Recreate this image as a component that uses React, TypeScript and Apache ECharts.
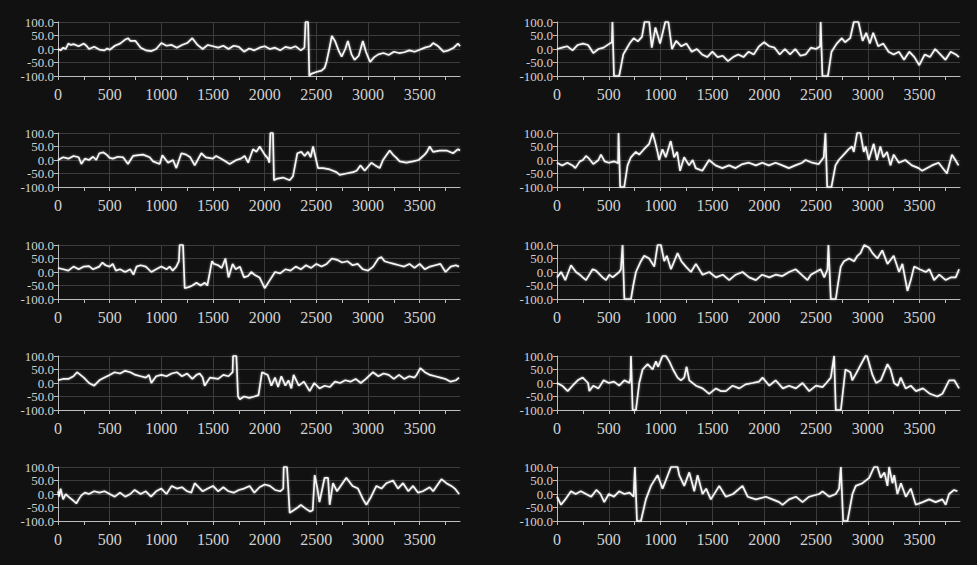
import React, { useEffect, useRef } from "react";
import * as echarts from "echarts";

// ---- axis definitions ----
const X_MIN = 0;
const X_MAX = 3890;
const X_TICK_STEP = 250;
const X_LABEL_STEP = 500;
const Y_MIN = -100;
const Y_MAX = 100;
const Y_STEP = 50;
const Y_LABELS_A = [-100, 0, 100];
const Y_LABELS_B = [-50, 50];

// ---- data: [sample index, value] ----
const L1: [number, number][] = [
  [0,0],[25,-5],[50,5],[75,0],[100,20],[125,15],[150,18],[200,10],[250,20],[275,12],[300,0],[350,8],[400,-2],[450,-5],[475,2],[500,-3],[550,12],[600,20],[650,35],[680,40],[700,30],[750,30],[800,5],[850,-5],[900,-8],[950,0],[1000,22],[1050,12],[1100,15],[1150,5],[1200,15],[1250,22],[1300,40],[1350,15],[1400,0],[1450,15],[1500,10],[1550,5],[1600,12],[1650,0],[1700,12],[1750,8],[1800,-10],[1850,2],[1900,-5],[1950,5],[2000,10],[2050,0],[2100,5],[2150,-5],[2200,8],[2250,3],[2300,10],[2350,-5],[2385,5],[2395,100],[2420,100],[2432,-100],[2450,-92],[2500,-85],[2550,-80],[2580,-70],[2600,-45],[2625,0],[2650,48],[2680,30],[2720,-10],[2745,-28],[2780,0],[2805,30],[2840,-20],[2870,-40],[2910,-25],[2950,30],[2980,-10],[3020,-48],[3060,-30],[3100,-20],[3150,-15],[3200,-22],[3250,-10],[3300,-15],[3350,-12],[3400,-5],[3450,-10],[3500,-3],[3550,5],[3600,10],[3630,22],[3680,10],[3730,-10],[3780,-5],[3830,5],[3870,20],[3890,10]
];
const R1: [number, number][] = [
  [0,0],[50,5],[100,10],[150,-5],[200,15],[250,20],[300,15],[350,-15],[400,0],[450,5],[500,18],[530,25],[535,100],[550,-100],[600,-100],[640,-20],[670,0],[700,20],[740,40],[780,28],[820,45],[845,100],[890,100],[915,5],[950,80],[995,20],[1045,100],[1075,100],[1110,0],[1150,30],[1200,10],[1250,20],[1300,-10],[1350,0],[1400,-20],[1450,-30],[1500,-10],[1550,-30],[1600,-25],[1650,-45],[1700,-30],[1750,-20],[1800,-30],[1850,-10],[1900,-20],[1950,10],[2000,25],[2050,10],[2100,5],[2150,-20],[2200,0],[2250,-20],[2300,0],[2350,-25],[2400,-20],[2450,5],[2500,0],[2540,10],[2545,100],[2562,-100],[2615,-100],[2650,-10],[2700,20],[2750,40],[2780,25],[2830,40],[2865,100],[2910,100],[2950,30],[2985,60],[3020,20],[3052,60],[3100,10],[3150,20],[3200,-10],[3250,-20],[3300,-10],[3350,-40],[3400,-10],[3450,-30],[3497,-60],[3550,-20],[3600,-30],[3650,0],[3700,-20],[3750,-40],[3800,-10],[3850,-20],[3880,-30]
];
const L2: [number, number][] = [
  [0,0],[50,10],[100,5],[150,15],[200,10],[226,-15],[260,5],[300,0],[339,12],[370,0],[400,25],[440,28],[470,20],[500,8],[532,5],[580,12],[630,10],[677,-15],[726,15],[780,18],[823,20],[887,10],[920,-5],[984,-15],[1010,18],[1065,-10],[1113,0],[1145,-30],[1194,25],[1240,20],[1280,10],[1323,-20],[1387,25],[1430,10],[1500,5],[1530,15],[1600,0],[1661,-15],[1726,0],[1770,5],[1806,15],[1840,-10],[1887,40],[1920,30],[1952,50],[2000,20],[2032,5],[2045,-10],[2055,100],[2080,100],[2090,-75],[2113,-70],[2177,-65],[2242,-75],[2274,-60],[2316,25],[2355,30],[2387,15],[2419,30],[2445,10],[2468,50],[2516,-30],[2565,-30],[2630,-35],[2694,-45],[2726,-55],[2790,-50],[2855,-45],[2890,-40],[2926,-20],[2968,-40],[3032,-10],[3070,-20],[3113,-30],[3145,0],[3210,35],[3240,20],[3270,10],[3306,-5],[3371,-10],[3435,-5],[3490,0],[3548,20],[3570,30],[3597,50],[3629,30],[3694,35],[3760,35],[3823,25],[3871,40],[3890,35]
];
const R2: [number, number][] = [
  [0,-10],[50,-20],[100,-10],[150,-20],[177,-30],[220,-5],[250,0],[280,15],[310,5],[350,-15],[400,0],[424,20],[460,-5],[500,-10],[550,-5],[590,-12],[594,100],[610,-100],[649,-100],[681,-20],[713,10],[761,30],[793,20],[840,40],[890,60],[922,100],[945,70],[970,30],[986,0],[1018,40],[1050,10],[1098,70],[1130,10],[1160,30],[1188,-40],[1227,10],[1275,-20],[1310,0],[1339,-30],[1403,-40],[1468,0],[1530,-20],[1596,-30],[1660,-20],[1724,-30],[1790,-15],[1853,-10],[1920,-20],[1981,-10],[2045,-20],[2110,-10],[2175,-20],[2238,-30],[2300,-20],[2367,-10],[2400,0],[2463,-10],[2527,-15],[2575,10],[2591,100],[2608,-100],[2649,-100],[2688,-20],[2720,0],[2768,20],[2816,40],[2848,50],[2865,30],[2897,100],[2929,100],[2961,30],[2980,50],[3009,0],[3057,60],[3089,0],[3121,50],[3150,10],[3186,30],[3218,-20],[3250,20],[3300,-10],[3362,0],[3425,-20],[3491,-30],[3525,-40],[3619,-20],[3683,-10],[3764,-50],[3812,20],[3845,0],[3876,-20]
];
const L3: [number, number][] = [
  [0,15],[50,10],[100,5],[150,20],[200,10],[250,20],[300,22],[339,10],[400,20],[430,35],[460,25],[500,20],[530,30],[560,5],[600,10],[650,0],[700,10],[730,-10],[760,20],[800,25],[850,20],[903,0],[950,10],[1000,20],[1050,10],[1080,20],[1110,5],[1145,20],[1170,40],[1177,100],[1210,100],[1226,-60],[1270,-55],[1300,-50],[1340,-40],[1380,-50],[1420,-40],[1445,-50],[1470,0],[1490,40],[1510,30],[1550,25],[1585,15],[1620,50],[1650,-20],[1690,30],[1720,10],[1760,20],[1800,-20],[1840,-15],[1870,0],[1900,-10],[1950,-20],[2000,-60],[2050,-30],[2100,0],[2150,-5],[2200,10],[2250,5],[2300,20],[2350,10],[2400,25],[2450,15],[2500,30],[2550,20],[2600,30],[2650,50],[2700,45],[2750,35],[2800,40],[2850,25],[2900,30],[2950,10],[3000,5],[3050,20],[3100,50],[3130,55],[3160,40],[3200,35],[3250,30],[3300,25],[3350,20],[3400,30],[3450,15],[3500,30],[3550,10],[3600,20],[3650,25],[3700,30],[3750,0],[3800,20],[3850,25],[3880,20]
];
const R3: [number, number][] = [
  [0,-20],[40,0],[80,-30],[110,0],[135,25],[183,0],[220,-10],[248,-20],[280,-30],[344,10],[376,5],[440,-20],[473,-30],[505,-10],[537,-20],[601,0],[617,10],[633,100],[650,-100],[714,-100],[736,-50],[762,0],[810,40],[842,60],[890,50],[939,20],[971,100],[1003,100],[1035,40],[1060,60],[1100,10],[1164,70],[1200,40],[1244,20],[1293,0],[1341,30],[1405,-10],[1470,0],[1534,-20],[1600,-10],[1662,-30],[1725,-10],[1791,0],[1855,-20],[1920,-30],[1980,-10],[2050,-20],[2110,-10],[2175,-15],[2241,0],[2305,10],[2360,-10],[2418,-30],[2450,-10],[2498,0],[2545,10],[2580,-20],[2611,10],[2620,100],[2643,-100],[2691,-100],[2710,-50],[2739,20],[2770,40],[2819,50],[2868,40],[2900,60],[2930,70],[2965,100],[3013,90],[3045,70],[3093,50],[3140,80],[3190,30],[3250,60],[3302,0],[3334,30],[3383,-70],[3415,-30],[3447,20],[3500,10],[3560,0],[3595,10],[3640,-30],[3690,-10],[3752,-30],[3800,-20],[3849,-20],[3881,10]
];
const L4: [number, number][] = [
  [0,10],[50,15],[100,15],[150,25],[184,40],[250,20],[300,0],[350,-10],[400,10],[450,20],[500,30],[548,40],[600,35],[650,45],[700,40],[750,30],[800,25],[850,20],[880,30],[903,0],[950,25],[1000,30],[1050,25],[1100,35],[1150,40],[1200,25],[1250,35],[1300,15],[1340,30],[1371,35],[1400,20],[1419,-10],[1470,20],[1550,15],[1600,30],[1650,25],[1690,40],[1694,100],[1726,100],[1742,-50],[1760,-60],[1800,-50],[1850,-55],[1900,-50],[1940,-45],[1974,40],[2030,30],[2065,-10],[2100,20],[2130,-15],[2161,25],[2200,-10],[2230,10],[2258,-20],[2280,30],[2330,-10],[2380,5],[2435,-30],[2480,0],[2530,-20],[2580,-10],[2630,-15],[2680,5],[2730,0],[2780,10],[2830,5],[2880,15],[2930,0],[2980,15],[3048,40],[3100,25],[3150,35],[3200,30],[3250,15],[3300,30],[3350,15],[3400,25],[3450,20],[3470,30],[3506,55],[3550,40],[3600,30],[3650,25],[3700,20],[3750,15],[3800,5],[3850,10],[3880,20]
];
const R4: [number, number][] = [
  [0,0],[50,-10],[103,-30],[150,-10],[200,10],[248,20],[300,0],[312,-30],[350,-10],[400,-20],[450,10],[500,0],[550,5],[600,-10],[650,10],[700,0],[710,20],[714,100],[730,-100],[762,-100],[794,0],[826,50],[875,70],[923,50],[955,80],[975,60],[1019,100],[1051,100],[1084,80],[1120,50],[1164,20],[1196,10],[1228,20],[1251,60],[1277,10],[1341,-10],[1405,-20],[1469,-40],[1534,-20],[1580,-30],[1630,-30],[1695,-10],[1760,-20],[1820,-5],[1888,0],[1950,5],[1984,20],[2050,-10],[2110,10],[2180,-20],[2240,-10],[2306,-20],[2370,0],[2434,-30],[2500,-10],[2563,-15],[2600,0],[2643,20],[2675,100],[2691,-100],[2740,-100],[2784,50],[2832,40],[2850,10],[2880,30],[2977,100],[2993,100],[3045,30],[3080,0],[3125,10],[3190,70],[3220,50],[3254,0],[3290,-10],[3318,20],[3365,-20],[3415,-10],[3465,-30],[3533,-20],[3600,-40],[3672,-50],[3720,-40],[3785,10],[3835,10],[3881,-20]
];
const L5: [number, number][] = [
  [0,10],[10,-10],[25,20],[50,-20],[75,0],[100,-10],[150,-25],[177,-35],[200,-20],[226,-5],[260,5],[300,0],[350,10],[400,5],[450,10],[500,0],[550,-10],[600,5],[650,-10],[700,0],[742,15],[800,0],[850,10],[900,-10],[950,10],[1000,20],[1050,0],[1100,30],[1150,20],[1200,25],[1250,10],[1290,5],[1323,40],[1400,10],[1450,20],[1500,30],[1550,10],[1600,25],[1650,10],[1700,5],[1750,15],[1800,20],[1855,30],[1900,5],[1950,25],[2000,35],[2050,30],[2100,15],[2150,10],[2180,20],[2184,100],[2216,100],[2242,-70],[2280,-60],[2320,-50],[2350,-40],[2400,-55],[2440,-65],[2465,-60],[2484,70],[2510,20],[2530,-30],[2580,60],[2613,60],[2629,-40],[2661,40],[2700,10],[2790,60],[2850,30],[2903,20],[2952,-20],[2984,-40],[3030,-10],[3081,30],[3130,20],[3177,40],[3242,50],[3290,20],[3339,40],[3390,10],[3436,30],[3484,5],[3530,10],[3597,25],[3630,10],[3710,55],[3758,40],[3806,30],[3840,20],[3881,0]
];
const R5: [number, number][] = [
  [0,-10],[39,-40],[80,-20],[135,10],[180,0],[230,10],[280,0],[330,-10],[380,15],[420,0],[456,-30],[500,0],[550,-10],[600,10],[650,0],[700,5],[740,-10],[752,100],[772,-100],[810,-100],[858,-20],[907,30],[971,70],[1000,40],[1019,20],[1050,50],[1100,100],[1164,100],[1180,70],[1228,30],[1277,80],[1325,10],[1357,70],[1405,0],[1440,20],[1485,-20],[1566,30],[1630,-10],[1700,0],[1791,30],[1840,-10],[1920,-20],[2016,-10],[2080,-20],[2145,-30],[2177,-40],[2240,-20],[2306,-10],[2370,-30],[2434,-10],[2531,0],[2563,10],[2627,-10],[2691,0],[2723,20],[2740,100],[2762,-100],[2804,-100],[2852,0],[2884,30],[2949,40],[3013,60],[3061,100],[3093,100],[3125,60],[3160,80],[3190,30],[3206,100],[3238,40],[3255,70],[3286,0],[3320,40],[3367,-10],[3415,20],[3463,-40],[3530,-30],[3592,-20],[3655,-30],[3720,-20],[3752,-40],[3785,0],[3833,15],[3865,10]
];

// panels in reading order: row by row, left then right
const panels = [L1, R1, L2, R2, L3, R3, L4, R4, L5, R5];

// ---- layout ----
const COL_LEFT = [58, 557];
const COL_WIDTH = [402, 403];
const ROW_TOP = [22, 133, 245, 356, 467];
const PLOT_HEIGHT = 54;

const FONT = "'Liberation Serif', 'Times New Roman', serif";
const BG = "#111111";
const TEXT = "#d2d2d2";
const AXIS = "#bdbdbd";
const GRID = "#3c3c3c";

const yLabelStyle = {
  color: TEXT,
  fontFamily: FONT,
  fontSize: 13,
  lineHeight: 13,
  margin: 4,
  showMinLabel: true,
  showMaxLabel: true,
  hideOverlap: false,
};

export default function App() {
  const ref = useRef<HTMLDivElement>(null);
  useEffect(() => {
    document.body.style.margin = "0";
    document.body.style.background = BG;
    const chart = echarts.init(ref.current!, null, { renderer: "svg" });
    const grid: any[] = [];
    const xAxis: any[] = [];
    const yAxis: any[] = [];
    const series: any[] = [];
    panels.forEach((data, i) => {
      const row = Math.floor(i / 2);
      const col = i % 2;
      grid.push({
        left: COL_LEFT[col],
        top: ROW_TOP[row],
        width: COL_WIDTH[col],
        height: PLOT_HEIGHT,
        containLabel: false,
      });
      xAxis.push({
        type: "value",
        gridIndex: i,
        min: X_MIN,
        max: X_MAX,
        interval: X_TICK_STEP,
        axisLine: { show: true, onZero: false, lineStyle: { color: AXIS, width: 1 } },
        axisTick: { show: true, length: 4, lineStyle: { color: AXIS } },
        axisLabel: {
          showMaxLabel: false,
          color: TEXT,
          fontFamily: FONT,
          fontSize: 16,
          margin: 10,
          formatter: (v: number) => (v % X_LABEL_STEP === 0 ? String(v) : ""),
        },
        splitLine: {
          show: true,
          showMaxLine: false,
          lineStyle: { color: [GRID, "rgba(0,0,0,0)"], width: 1 },
        },
      });
      // main y axis: line, ticks, grid lines, labels at -100 / 0 / 100
      yAxis.push({
        type: "value",
        gridIndex: i,
        min: Y_MIN,
        max: Y_MAX,
        interval: Y_STEP,
        axisLine: { show: true, lineStyle: { color: AXIS, width: 1 } },
        axisTick: { show: true, length: 4, lineStyle: { color: AXIS } },
        axisLabel: {
          ...yLabelStyle,
          customValues: Y_LABELS_A,
          formatter: (v: number) => (Y_LABELS_A.includes(v) ? v.toFixed(1) : ""),
        },
        splitLine: { show: true, lineStyle: { color: GRID, width: 1 } },
      });
      // companion y axis on the same scale: labels at -50 / 50
      yAxis.push({
        type: "value",
        gridIndex: i,
        position: "left",
        min: Y_MIN,
        max: Y_MAX,
        interval: Y_STEP,
        axisLine: { show: false },
        axisTick: { show: false },
        splitLine: { show: false },
        axisLabel: {
          ...yLabelStyle,
          customValues: Y_LABELS_B,
          formatter: (v: number) => (Y_LABELS_B.includes(v) ? v.toFixed(1) : ""),
        },
      });
      series.push({
        type: "line",
        xAxisIndex: i,
        yAxisIndex: 2 * i,
        data,
        showSymbol: false,
        symbol: "none",
        clip: false,
        lineStyle: {
          color: "#f6f6f6",
          width: 1.7,
          shadowBlur: 2,
          shadowColor: "rgba(255,255,255,0.55)",
        },
      });
    });
    chart.setOption({
      animation: false,
      backgroundColor: BG,
      grid,
      xAxis,
      yAxis,
      series,
    });
    return () => chart.dispose();
  }, []);
  return <div ref={ref} style={{ width: 977, height: 565, background: BG }} />;
}
